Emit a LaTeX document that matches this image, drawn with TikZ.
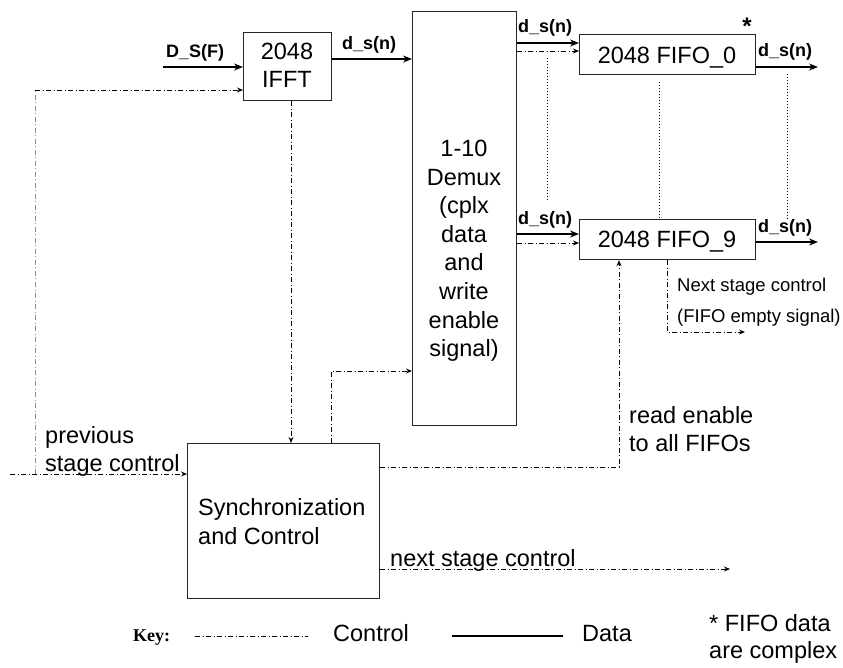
\documentclass[tikz,border=0pt]{standalone}
\usepackage{fontspec}
\setmainfont{Liberation Sans}
\newfontfamily\keyfont{Liberation Serif}
\usetikzlibrary{arrows.meta}

\begin{document}
\begin{tikzpicture}[x=1pt,y=-1pt,
  blk/.style={draw=black!85,line width=1.2pt,inner sep=0,anchor=north west},
  big/.style={font=\fontsize{23.5}{28.6}\selectfont,inner sep=0},
  small/.style={font=\fontsize{18.5}{22}\selectfont,inner sep=0},
  sig/.style={font=\fontsize{18}{22}\selectfont\bfseries,inner sep=0,anchor=base},
  data/.style={line width=1.4pt,-{Stealth[length=9pt,width=7pt]}},
  ctl/.style={line width=0.9pt,dash pattern=on 5pt off 2.5pt on 1pt off 2.5pt},
  ctla/.style={ctl,-{Stealth[length=6pt,width=5pt]}},
  dots/.style={line width=1pt,dotted}]
\useasboundingbox (0,0) rectangle (843,668);

% blocks
\node[blk,minimum width=88pt,minimum height=68pt]  (ifft)  at (243,32)  {};
\node[blk,minimum width=104pt,minimum height=414pt] (demux) at (412,11) {};
\node[blk,minimum width=176pt,minimum height=40pt] (fifo0) at (579,34)  {};
\node[blk,minimum width=176pt,minimum height=40pt] (fifo9) at (579,219) {};
\node[blk,minimum width=192pt,minimum height=155pt] (sync) at (187,443) {};

% block texts
\node[big,anchor=base] (t1) at (287,60) {2048};
\node[big,anchor=base] (t2) at (287,88) {IFFT};
\node[big,anchor=base] (t3) at (667,63.5) {2048 FIFO\_0};
\node[big,anchor=base] (t4) at (667,247.5) {2048 FIFO\_9};
\foreach \t [count=\i from 0] in {{1-10},{Demux},{(cplx},{data},{and},{write},{enable},{signal)}}
  \node[big,anchor=base] (dm\i) at (464,156.5+28.6*\i) {\t};
\node[big,anchor=base west] (s1) at (198,515) {Synchronization};
\node[big,anchor=base west] (s2) at (198,544) {and Control};

% data paths
\coordinate (dsin) at (163,67);
\draw[data] (dsin) -- (dsin -| ifft.west);
\draw[data] (ifft.east |- 0,59) -- (demux.west |- 0,59);
\draw[data] (demux.east |- 0,43) -- (fifo0.west |- 0,43);
\draw[data] (demux.east |- 0,234) -- (fifo9.west |- 0,234);
\coordinate (out0) at (818,67);
\coordinate (out9) at (818,242);
\draw[data] (fifo0.east |- out0) -- (out0);
\draw[data] (fifo9.east |- out9) -- (out9);

\node[sig] (l1) at (195,58) {D\_S(F)};
\node[sig] (l2) at (369,50) {d\_s(n)};
\node[sig] (l3) at (545,33) {d\_s(n)};
\node[sig] (l4) at (545,225) {d\_s(n)};
\node[sig] (l5) at (785,57) {d\_s(n)};
\node[sig] (l6) at (785,233) {d\_s(n)};
\node[font=\fontsize{24}{24}\selectfont\bfseries,inner sep=0,anchor=base] (star) at (747,35) {*};

% control paths
\coordinate (prev) at (10,474);
\coordinate (jn) at (35,474);
\coordinate (up) at (35,90);
\draw[ctl,black!45] (jn) -- (up);
\draw[ctla] (up) -- (up -| ifft.west);
\draw[ctla] (prev) -- (prev -| sync.west);
\draw[ctla] (ifft.south -| 291,0) -- (sync.north -| 291,0);
\draw[ctla] (sync.north -| 331,0) |- (demux.west |- 0,371);
\draw[ctla] (demux.east |- 0,51) -- (fifo0.west |- 0,51);
\draw[ctla] (demux.east |- 0,243) -- (fifo9.west |- 0,243);
\draw[ctla] (sync.east |- 0,467) -| (fifo9.south -| 619,0);
\coordinate (nsc) at (730,569);
\draw[ctla] (sync.east |- nsc) -- (nsc);
\coordinate (fe) at (745,332);
\draw[ctla] (fifo9.south -| 667,0) |- (fe);

% elided FIFOs
\draw[dots] (547,58) -- (547,200);
\draw[dots] (659,82) -- (fifo9.north -| 659,0);
\draw[dots] (787,74) -- (787,220);

% control labels
\node[big,anchor=base west] (p1) at (45,443) {previous};
\node[big,anchor=base west] (p2) at (45,471) {stage control};
\node[big,anchor=base west] (r1) at (629,423) {read enable};
\node[big,anchor=base west] (r2) at (629,451) {to all FIFOs};
\node[small,anchor=base west] (n1) at (677,291) {Next stage control};
\node[small,anchor=base west] (n2) at (677,323) {(FIFO empty signal)};
\node[big,anchor=base west] (n3) at (390,566) {next stage control};

% key
\node[font=\fontsize{18}{22}\selectfont\keyfont\bfseries,inner sep=0,anchor=base west] (key) at (133,641) {Key:};
\coordinate (kc1) at (195,636);
\coordinate (kc2) at (308,636);
\draw[ctl,line width=0.7pt] (kc1) -- (kc2);
\node[big,anchor=base west] (kc) at (333,641) {Control};
\coordinate (kd1) at (452,636);
\coordinate (kd2) at (563,636);
\draw[line width=1.2pt] (kd1) -- (kd2);
\node[big,anchor=base west] (kd) at (582,641) {Data};
\node[big,anchor=base west] (f1) at (709,631) {* FIFO data};
\node[big,anchor=base west] (f2) at (709,658) {are complex};
\end{tikzpicture}
\end{document}
